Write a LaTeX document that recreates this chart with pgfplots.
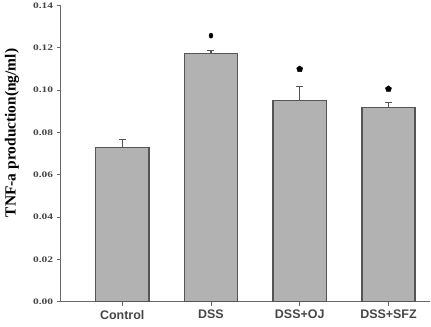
\documentclass[border=0pt]{standalone}
\usepackage{fontspec}
\usepackage{pgfplots}
\pgfplotsset{compat=1.18}
\setmainfont{Liberation Serif}
\newfontfamily\catfont{Liberation Sans}
\newfontfamily\tickfont[FakeStretch=1.35]{Liberation Serif}
\definecolor{barfill}{RGB}{178,178,178}
\definecolor{baredge}{RGB}{85,85,85}
\definecolor{axgray}{RGB}{105,105,105}
\definecolor{txtgray}{RGB}{70,70,70}
\begin{document}
\begin{tikzpicture}
\begin{axis}[
  name=ax,
  scale only axis,
  width=369.3bp, height=296.1bp,
  xmin=-0.693, xmax=3.468,
  ymin=0, ymax=0.14,
  axis x line*=bottom, axis y line*=left,
  axis line style={axgray, line width=1.1bp, -},
  ytick={0,0.02,...,0.14},
  xtick={0,1,2,3},
  xticklabels={Control,DSS,DSS+OJ,DSS+SFZ},
  tick align=outside,
  major tick length=4bp,
  tick style={axgray, line width=0.9bp},
  /pgf/number format/assume math mode=true,
  yticklabel style={font=\tickfont\bfseries\fontsize{8.5}{9}\selectfont, text=txtgray, /pgf/number format/.cd, fixed, fixed zerofill, precision=2},
  xticklabel style={font=\catfont\bfseries\fontsize{12.5}{13}\selectfont, text=txtgray, yshift=-1bp},
  ylabel={TNF-a production(ng/ml)},
  ylabel style={font=\bfseries\fontsize{15.5}{16}\selectfont, at={(axis description cs:-0.132,0.57)}, anchor=center},
  clip=false,
]
\addplot[ybar, bar width=0.6, fill=barfill, draw=baredge, line width=1.4bp,
  error bars/.cd, y dir=plus, y explicit,
  error bar style={baredge, line width=1.3bp},
  error mark options={rotate=90, mark size=3.5bp, line width=1.3bp, baredge}]
  coordinates {(0,0.0730) +- (0,0.0038) (1,0.1174) +- (0,0.0013) (2,0.0950) +- (0,0.0067) (3,0.0919) +- (0,0.0022)};
\addplot[only marks, mark=*, mark size=2bp, black, mark options={yscale=1.3}] coordinates {(1,0.1258)};
\addplot[only marks, mark=pentagon*, mark size=3.2bp, black] coordinates {(2,0.1100) (3,0.1006)};
\end{axis}
\pgfresetboundingbox
\path[use as bounding box] ([xshift=-60.7bp,yshift=-25.3bp]ax.south west) rectangle ([xshift=1bp,yshift=5.6bp]ax.north east);
\end{tikzpicture}
\end{document}
